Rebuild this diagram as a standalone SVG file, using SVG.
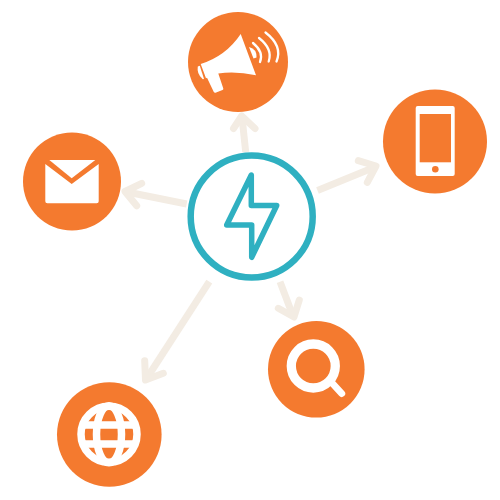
<svg xmlns="http://www.w3.org/2000/svg" width="500" height="500" viewBox="0 0 500 500">
<style>
.o{fill:#f47a2f}.w{fill:#fff}
.ws{fill:none;stroke:#fff;stroke-linecap:round;stroke-linejoin:round}
.a{fill:none;stroke:#f3ece3;stroke-width:7}
.h{fill:none;stroke:#f3ece3;stroke-width:7;stroke-linecap:round;stroke-linejoin:round}
</style>
<rect width="500" height="500" fill="#fff"/>
<g id="connectors">
<path class="a" d="M245.7 152L242 117"/><path class="h" d="M233.5 128.5L241.7 116L255 128.5"/>
<path class="a" d="M317.5 190.5L375 167"/><path class="h" d="M358.3 160.7L376 166L367.3 182.3"/>
<path class="a" d="M186.7 204L127 192"/><path class="h" d="M141.7 183.3L125 191.5L136.7 205.7"/>
<path class="a" d="M280 281.7L293 316"/><path class="h" d="M278.3 308.3L294 317L299.3 300"/>
<path class="a" d="M209.3 281.7L147 378"/><path class="h" d="M144.7 360.7L145.5 380L163.3 373.3"/>
</g>
<g id="center">
<circle cx="251.7" cy="216.5" r="61" fill="#fff" stroke="#2fb0c1" stroke-width="6.5"/>
<path d="M251.3 175V205.5H276.7L251.7 257.3V225H226.7Z" fill="none" stroke="#2fb0c1" stroke-width="5.5" stroke-linejoin="round"/>
</g>
<g id="megaphone">
<circle class="o" cx="238" cy="62" r="50"/>
<path class="w" d="M240.7 34L256 75.3Q236 71 218.3 73.5L223.3 88.5Q223.5 89.5 222.5 90L215.5 92.8Q214.3 93 213.8 92L207 77.8L206 78.3L200.7 64Q226 56 240.7 34Z"/>
<path class="w" d="M197.8 66.5L199.8 65.8L204 79L202.8 79.2Q196.5 74 197.8 66.5Z"/>
<path class="w" d="M249 47Q257 49 256.5 57.5L253.5 58.5Z"/>
<path class="ws" stroke-width="2.3" d="M253 43Q264 52 260 62M259 38Q273 49 268.7 61.5M265.5 32.5Q283 46 276.5 61.5"/>
</g>
<g id="phone">
<circle class="o" cx="435" cy="141.5" r="52"/>
<rect class="w" x="415.7" y="106" width="39" height="70" rx="2"/>
<rect class="o" x="419.7" y="114" width="31.3" height="48.3"/>
<circle class="o" cx="435.3" cy="169.3" r="3.3"/>
</g>
<g id="mail">
<circle class="o" cx="72" cy="181.5" r="49"/>
<path class="w" d="M49.3 160H95.3L71.7 178.3Z"/>
<path class="w" d="M45.3 164L71.7 184L98.7 164V201.3Q98.7 203.3 96.7 203.3H47.3Q45.3 203.3 45.3 201.3Z"/>
</g>
<g id="search">
<circle class="o" cx="316.3" cy="369.3" r="48.3"/>
<circle cx="313.3" cy="366" r="22" fill="none" stroke="#fff" stroke-width="9.3"/>
<path class="ws" stroke-width="7" d="M333 384L341.7 393.5"/>
</g>
<g id="globe">
<circle class="o" cx="109.3" cy="434.5" r="52.3"/>
<g fill="none" stroke="#fff" stroke-width="7.5">
<circle cx="109" cy="434.3" r="28"/>
<ellipse cx="109" cy="434.3" rx="12.5" ry="28.5"/>
<path d="M81 425H137M81 444H137"/>
</g>
</g>
</svg>
